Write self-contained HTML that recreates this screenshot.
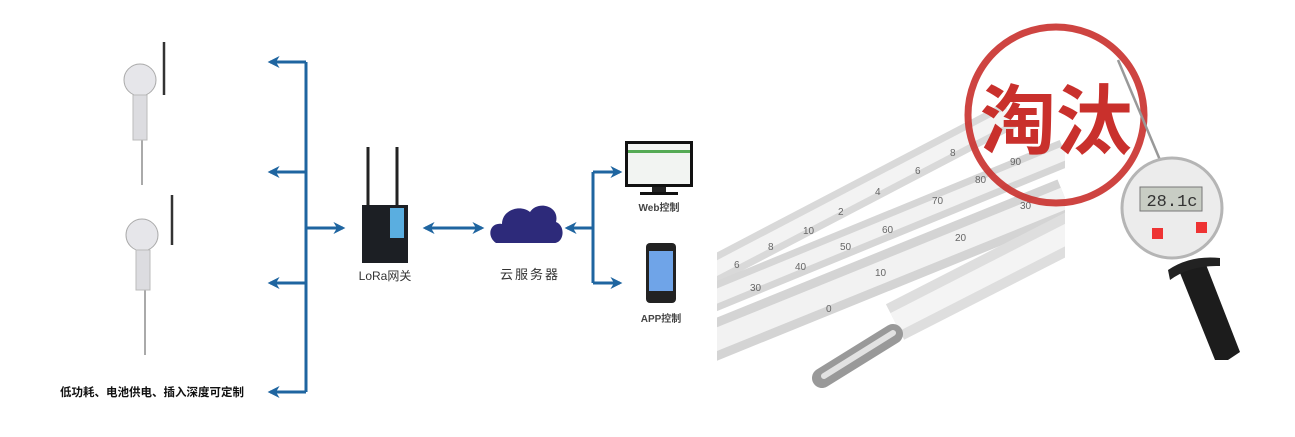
<!DOCTYPE html>
<html><head><meta charset="utf-8"><style>
html,body{margin:0;padding:0;background:#fff;}
body{width:1295px;height:437px;overflow:hidden;position:relative;font-family:"Liberation Sans","Noto Sans CJK SC",sans-serif;}
</style></head><body>
<svg width="1295" height="437" viewBox="0 0 1295 437" xmlns="http://www.w3.org/2000/svg" style="position:absolute;left:0;top:0">
<defs>
<marker id="ah" viewBox="0 0 10 10" refX="8" refY="5" markerWidth="4" markerHeight="4" orient="auto-start-reverse"><path d="M0,0 L10,5 L0,10 L3,5 Z" fill="#1f65a0"/></marker>
<clipPath id="cl"><rect x="717" y="0" width="348" height="437"/></clipPath>
<clipPath id="cl1"><rect x="717" y="0" width="460" height="437"/></clipPath>
</defs>
<!-- sensors -->
<g>
<line x1="142" y1="95" x2="142" y2="185" stroke="#aaa" stroke-width="2"/>
<line x1="164" y1="42" x2="164" y2="95" stroke="#333" stroke-width="2.5"/>
<ellipse cx="140" cy="80" rx="16" ry="16" fill="#e6e6ea" stroke="#aaa"/>
<rect x="133" y="95" width="14" height="45" fill="#dcdce0" stroke="#bbb"/>
<line x1="145" y1="250" x2="145" y2="355" stroke="#aaa" stroke-width="2"/>
<line x1="172" y1="195" x2="172" y2="245" stroke="#333" stroke-width="2.5"/>
<ellipse cx="142" cy="235" rx="16" ry="16" fill="#e6e6ea" stroke="#aaa"/>
<rect x="136" y="250" width="14" height="40" fill="#dcdce0" stroke="#bbb"/>
</g>
<!-- bus -->
<g stroke="#1f65a0" stroke-width="3" fill="none">
<line x1="306" y1="62" x2="306" y2="392"/>
<line x1="306" y1="62" x2="270" y2="62" marker-end="url(#ah)"/>
<line x1="306" y1="172" x2="270" y2="172" marker-end="url(#ah)"/>
<line x1="306" y1="283" x2="270" y2="283" marker-end="url(#ah)"/>
<line x1="306" y1="392" x2="270" y2="392" marker-end="url(#ah)"/>
<line x1="306" y1="228" x2="343" y2="228" marker-end="url(#ah)"/>
<line x1="425" y1="228" x2="482" y2="228" marker-start="url(#ah)" marker-end="url(#ah)"/>
<line x1="593" y1="228" x2="567" y2="228" marker-end="url(#ah)"/>
<line x1="593" y1="172" x2="593" y2="283"/>
<line x1="593" y1="172" x2="620" y2="172" marker-end="url(#ah)"/>
<line x1="593" y1="283" x2="620" y2="283" marker-end="url(#ah)"/>
</g>
<!-- gateway -->
<line x1="368" y1="147" x2="368" y2="206" stroke="#222" stroke-width="3"/>
<line x1="397" y1="147" x2="397" y2="206" stroke="#222" stroke-width="3"/>
<rect x="362" y="205" width="46" height="58" fill="#1c1f24"/>
<rect x="390" y="208" width="14" height="30" fill="#5aaee0"/>
<!-- cloud -->
<path d="M496,243 C486,236 490,222 502,224 C502,210 520,204 530,212 C538,200 560,206 556,222 C566,226 564,243 554,243 Z" fill="#2d2a7a"/>
<!-- monitor -->
<rect x="625" y="141" width="68" height="46" fill="#111"/>
<rect x="628" y="144" width="62" height="40" fill="#f2f4f2"/>
<rect x="628" y="150" width="62" height="3" fill="#5a5"/>
<rect x="652" y="187" width="14" height="5" fill="#222"/>
<rect x="640" y="192" width="38" height="3" fill="#111"/>
<!-- phone -->
<rect x="646" y="243" width="30" height="60" rx="4" fill="#222"/>
<rect x="649" y="251" width="24" height="40" fill="#6fa4e8"/>
<!-- labels -->
<text x="385" y="280" font-size="12" text-anchor="middle" fill="#333">LoRa网关</text>
<text x="530" y="279" font-size="13" text-anchor="middle" fill="#333" letter-spacing="2">云服务器</text>
<text x="659" y="211" font-size="10" font-weight="bold" text-anchor="middle" fill="#444">Web控制</text>
<text x="661" y="322" font-size="10" font-weight="bold" text-anchor="middle" fill="#444">APP控制</text>
<text x="60" y="396" font-size="11.5" font-weight="bold" fill="#111">低功耗、电池供电、插入深度可定制</text>
<!-- right photo: rods -->
<g clip-path="url(#cl1)">
<line x1="700" y1="277" x2="1010" y2="115" stroke="#d9d9d9" stroke-width="28"/>
<line x1="700" y1="277" x2="1010" y2="115" stroke="#f3f3f3" stroke-width="14"/>
</g>
<g clip-path="url(#cl)">
<line x1="700" y1="303" x2="1065" y2="153" stroke="#d6d6d6" stroke-width="28"/>
<line x1="700" y1="303" x2="1065" y2="153" stroke="#f2f2f2" stroke-width="14"/>
<line x1="700" y1="346" x2="1065" y2="198" stroke="#d4d4d4" stroke-width="40"/>
<line x1="700" y1="346" x2="1065" y2="198" stroke="#f2f2f2" stroke-width="22"/>
<line x1="895" y1="322" x2="1075" y2="230" stroke="#dedede" stroke-width="40"/>
<line x1="895" y1="322" x2="1075" y2="230" stroke="#f4f4f4" stroke-width="20"/>
</g>
<line x1="822" y1="378" x2="893" y2="334" stroke="#999" stroke-width="20" stroke-linecap="round"/>
<line x1="824" y1="376" x2="893" y2="333" stroke="#e2e2e2" stroke-width="6" stroke-linecap="round"/>
<g font-size="10" fill="#666">
<text x="734" y="268">6</text><text x="768" y="250">8</text><text x="803" y="234">10</text><text x="838" y="215">2</text><text x="875" y="195">4</text><text x="915" y="174">6</text><text x="950" y="156">8</text>
<text x="750" y="291">30</text><text x="795" y="270">40</text><text x="840" y="250">50</text><text x="882" y="233">60</text><text x="932" y="204">70</text><text x="975" y="183">80</text><text x="1010" y="165">90</text>
<text x="826" y="312">0</text><text x="875" y="276">10</text><text x="955" y="241">20</text><text x="1020" y="209">30</text>
</g>
<circle cx="1056" cy="115" r="88" fill="none" stroke="#c9302c" stroke-width="7" opacity="0.9"/>
<text x="1056" y="148" font-size="76" font-weight="bold" fill="#c9302c" text-anchor="middle" font-family="Noto Sans CJK SC, sans-serif">淘汰</text>
<!-- digital thermometer -->
<line x1="1118" y1="60" x2="1160" y2="160" stroke="#999" stroke-width="2.5"/>
<circle cx="1172" cy="208" r="50" fill="#ececec" stroke="#b5b5b5" stroke-width="3"/>
<rect x="1140" y="187" width="62" height="24" fill="#c8cdc4" stroke="#777"/>
<text x="1172" y="206" font-size="17" text-anchor="middle" fill="#333" font-family="Liberation Mono">28.1c</text>
<rect x="1152" y="228" width="11" height="11" fill="#e33"/>
<rect x="1196" y="222" width="11" height="11" fill="#e33"/>
<path d="M1178,268 L1205,262 L1240,352 L1228,360 L1215,360 Z" fill="#1c1c1c"/>
<path d="M1168,270 Q1190,255 1220,258 L1220,266 Q1190,265 1170,280 Z" fill="#222"/>
</svg>
</body></html>
